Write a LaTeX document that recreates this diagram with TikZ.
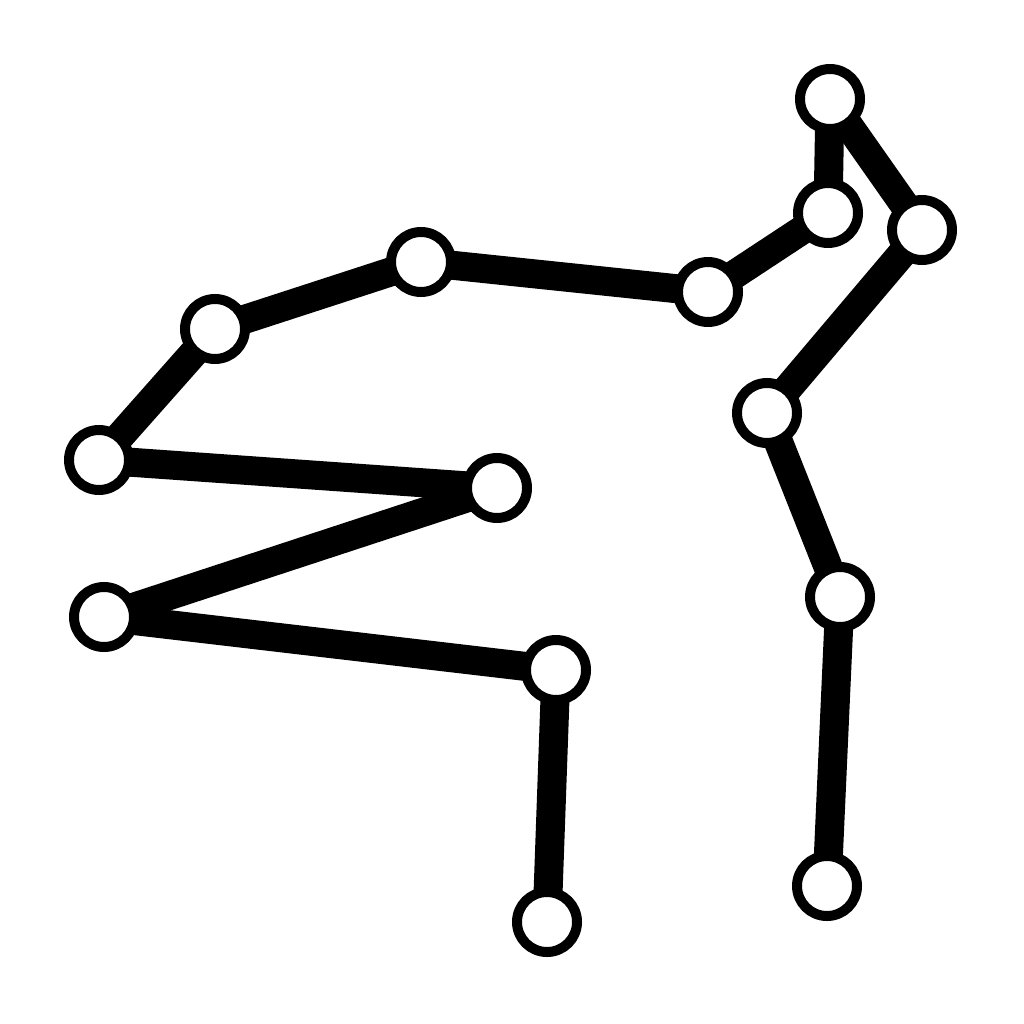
\documentclass[tikz,border=0pt]{standalone}
\begin{document}
\begin{tikzpicture}[x=1pt,y=-1pt,
  joint/.style={circle,draw=black,fill=white,line width=10pt,minimum size=60pt,inner sep=0pt},
  bar/.style={line width=29pt,black}]
\useasboundingbox (0,0) rectangle (1024,1024);
\coordinate (n1) at (547,922);
\coordinate (n2) at (556,670);
\coordinate (n3) at (104,617);
\coordinate (n4) at (497,488);
\coordinate (n5) at (99,460);
\coordinate (n6) at (215,329);
\coordinate (n7) at (421,262);
\coordinate (n8) at (708,292);
\coordinate (n9) at (828,213);
\coordinate (n10) at (830,99);
\coordinate (n11) at (922,230);
\coordinate (n12) at (767,413);
\coordinate (n13) at (840,597);
\coordinate (n14) at (827,886);
\foreach \a/\b in {n1/n2,n2/n3,n3/n4,n4/n5,n5/n6,n6/n7,n7/n8,n8/n9,n9/n10,n10/n11,n11/n12,n12/n13,n13/n14}
  \draw[bar] (\a) -- (\b);
\foreach \n in {n1,n2,n3,n4,n5,n6,n7,n8,n9,n10,n11,n12,n13,n14}
  \node[joint] (j\n) at (\n) {};
\end{tikzpicture}
\end{document}
